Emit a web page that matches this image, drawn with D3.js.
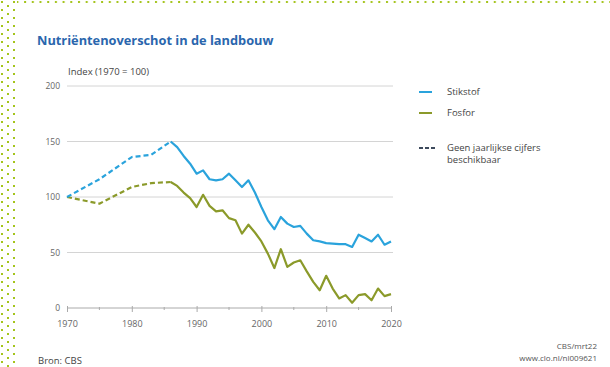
<!DOCTYPE html>
<html><head><meta charset="utf-8">
<script src="https://cdn.jsdelivr.net/npm/d3@7"></script>
<style>
html,body{margin:0;padding:0;background:#fff;}
svg{display:block;font-family:"Open Sans",sans-serif;}
</style></head>
<body><svg id="c" width="610" height="367"></svg>
<script>
// ---- data ----
const dashedYears = [1970, 1975, 1980, 1983, 1986];
const stikstofDashed = [100, 116, 136, 138, 150];
const fosforDashed = [100, 94, 109, 112.5, 113.5];

const years = [1986,1987,1988,1989,1990,1991,1992,1993,1994,1995,1996,1997,1998,1999,2000,
  2001,2002,2003,2004,2005,2006,2007,2008,2009,2010,2011,2012,2013,2014,2015,2016,2017,2018,2019,2020];
const stikstof = [150,145,137,130,121,124,116,115,116,121,115,109,115,104,91,
  79,71,82,76,73,74,67,61,60,58.5,58,57.5,57.5,55,66,63,60,66,57,60];
const fosfor = [113.5,110,104,99,91,102,92,87,88,81,79,67,75,68,60,
  49,36,53,37,41,43,33,23.5,16,29,17.5,8.6,11.6,4.7,11.6,12.5,7,17.5,10.7,12.5];

const yTicks = [0, 50, 100, 150, 200];
const xTicks = [1970, 1980, 1990, 2000, 2010, 2020];
const xMinorTicks = [1975, 1985, 1995, 2005, 2015];
const legendLabels = ["Stikstof", "Fosfor"];

const title = "Nutriëntenoverschot in de landbouw";
const yTitle = "Index (1970 = 100)";

// ---- drawing ----
const svg = d3.select("#c");
const blue = "#2aa3dc", green = "#8b9a2a", dot = "#a4c41c";

// decorative dotted border
const defs = svg.append("defs");
const pat = defs.append("pattern").attr("id","dots").attr("patternUnits","userSpaceOnUse")
  .attr("width",12).attr("height",8);
pat.append("rect").attr("x",1).attr("y",1).attr("width",2).attr("height",2).attr("fill",dot);
pat.append("rect").attr("x",7).attr("y",5).attr("width",2).attr("height",2).attr("fill",dot);
svg.append("rect").attr("x",0).attr("y",0).attr("width",17).attr("height",367).attr("fill","url(#dots)");
const pat2 = defs.append("pattern").attr("id","hdots").attr("patternUnits","userSpaceOnUse")
  .attr("width",7.7).attr("height",5);
pat2.append("rect").attr("x",1).attr("y",1).attr("width",2).attr("height",2).attr("fill",dot);
svg.append("rect").attr("x",17).attr("y",0).attr("width",593).attr("height",4).attr("fill","url(#hdots)");

const x = d3.scaleLinear().domain([1970, 2020]).range([67, 391]);
const y = d3.scaleLinear().domain([0, 200]).range([308, 86]);

svg.append("text").attr("x",37).attr("y",45).attr("fill","#2a66ad")
  .attr("font-size",12.8).attr("font-weight","bold").text(title);

svg.append("text").attr("x",68).attr("y",75).attr("fill","#444").attr("font-size",9.5).text(yTitle);

// grid
const grid = svg.append("g");
grid.selectAll("line").data(yTicks.filter(d=>d>0)).join("line")
  .attr("x1",67).attr("x2",393).attr("y1",d=>y(d)).attr("y2",d=>y(d))
  .attr("stroke","#d4d4d4").attr("stroke-width",1);

// y labels
svg.append("g").selectAll("text").data(yTicks).join("text")
  .attr("x",60).attr("y",d=>y(d)+3).attr("text-anchor","end")
  .attr("font-size",8.5).attr("fill","#666").text(d=>d);

// x axis
const xAxis = d3.axisBottom(x).tickValues(xTicks).tickSize(5).tickPadding(8).tickFormat(d3.format("d"));
const gx = svg.append("g").attr("transform",`translate(0,${y(0)})`).call(xAxis);
gx.select(".domain").attr("stroke","#aaa").attr("d",`M${x(1970)},0H${x(2020)}`);
gx.selectAll(".tick line").attr("stroke","#aaa").attr("y1",-2).attr("y2",4);
gx.selectAll(".tick text").attr("font-size",9).attr("fill","#666").attr("font-family","Open Sans, sans-serif");
svg.append("g").selectAll("line").data(xMinorTicks).join("line")
  .attr("x1",d=>x(d)).attr("x2",d=>x(d)).attr("y1",y(0)-1).attr("y2",y(0)+2)
  .attr("stroke","#aaa");

const line = d3.line().x(d=>x(d[0])).y(d=>y(d[1]));
function draw(xs, vs, color, dashed){
  svg.append("path").datum(xs.map((v,i)=>[v, vs[i]]))
    .attr("d", line).attr("fill","none").attr("stroke",color)
    .attr("stroke-width",2.2).attr("stroke-linejoin","round")
    .attr("stroke-dasharray", dashed ? "5,3" : null);
}
draw(dashedYears, fosforDashed, green, true);
draw(dashedYears, stikstofDashed, blue, true);
draw(years, fosfor, green, false);
draw(years, stikstof, blue, false);

// legend
const lg = svg.append("g");
const lcol = [blue, green];
legendLabels.forEach((t,i)=>{
  const yy = 92 + i*21;
  lg.append("line").attr("x1",419).attr("x2",432).attr("y1",yy).attr("y2",yy).attr("stroke",lcol[i]).attr("stroke-width",2);
  lg.append("text").attr("x",447).attr("y",yy+3).attr("font-size",9.5).attr("fill","#444").text(t);
});
lg.append("line").attr("x1",419).attr("x2",435).attr("y1",148).attr("y2",148)
  .attr("stroke","#3d4a5c").attr("stroke-width",2).attr("stroke-dasharray","4,2");
lg.append("text").attr("x",447).attr("y",151).attr("font-size",9.5).attr("fill","#444").text("Geen jaarlijkse cijfers");
lg.append("text").attr("x",447).attr("y",163).attr("font-size",9.5).attr("fill","#444").text("beschikbaar");

// footer
svg.append("text").attr("x",38).attr("y",364).attr("font-size",9.5).attr("fill","#444").text("Bron: CBS");
svg.append("text").attr("x",597).attr("y",349).attr("text-anchor","end").attr("font-size",8).attr("fill","#555").text("CBS/mrt22");
svg.append("text").attr("x",597).attr("y",361).attr("text-anchor","end").attr("font-size",8).attr("fill","#555").text("www.clo.nl/nl009621");
</script></body></html>
